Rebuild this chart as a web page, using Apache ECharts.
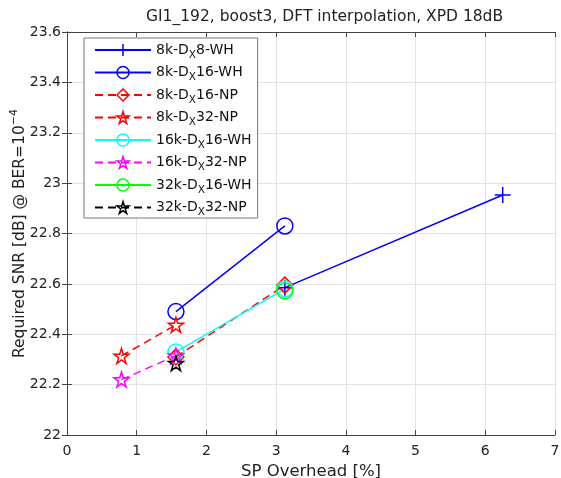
<!DOCTYPE html>
<html><head><meta charset="utf-8">
<script src="https://cdn.jsdelivr.net/npm/echarts@6/dist/echarts.min.js"></script>
<style>html,body{margin:0;padding:0;background:#fff}#c{width:561px;height:478px}</style>
</head><body><div id="c"></div>
<script>
const titleText = 'GI1_192, boost3, DFT interpolation, XPD 18dB';
const xTicks = [0,1,2,3,4,5,6,7];
const yTicks = [22,22.2,22.4,22.6,22.8,23,23.2,23.4,23.6];
const names = ['8k-Dx8-WH','8k-Dx16-WH','8k-Dx16-NP','8k-Dx32-NP','16k-Dx16-WH','16k-Dx32-NP','32k-Dx16-WH','32k-Dx32-NP'];
const colors = ['#0000ff','#0000ff','#ff0000','#ff0000','#00ffff','#ff00ff','#00ff00','#000000'];
const s8kDx8WH   = [[3.125,22.585],[6.25,22.953]];
const s8kDx16WH  = [[1.5625,22.49],[3.125,22.83]];
const s8kDx16NP  = [[1.5625,22.31],[3.125,22.595]];
const s8kDx32NP  = [[0.78125,22.314],[1.5625,22.437]];
const s16kDx16WH = [[1.5625,22.33],[3.125,22.58]];
const s16kDx32NP = [[0.78125,22.22],[1.5625,22.315]];
const s32kDx16WH = [[3.125,22.572]];
const s32kDx32NP = [[1.5625,22.285]];

const STAR = 'path://M0,-1L0.223,-0.307L0.951,-0.309L0.361,0.117L0.588,0.809L0,0.38L-0.588,0.809L-0.361,0.117L-0.951,-0.309L-0.223,-0.307Z';
const PLUS = 'path://M0,-1L0,1M-1,0L1,0';
const FONT = 'DejaVu Sans';

function mk(name, data, color, dashed, symbol, size) {
  return {
    name, type:'line', data, symbol, symbolSize:size,
    lineStyle:{color, width:1.5, type: dashed ? [8,5] : 'solid'},
    itemStyle:{color:'rgba(0,0,0,0)', borderColor:color, borderWidth:1.5},
    emphasis:{disabled:true}, animation:false
  };
}
const series = [
  mk(names[0], s8kDx8WH, colors[0], false, PLUS, 16),
  mk(names[1], s8kDx16WH, colors[1], false, 'circle', 16),
  mk(names[2], s8kDx16NP, colors[2], true, 'diamond', 16),
  mk(names[3], s8kDx32NP, colors[3], true, STAR, 15),
  mk(names[4], s16kDx16WH, colors[4], false, 'circle', 16),
  mk(names[5], s16kDx32NP, colors[5], true, STAR, 15),
  mk(names[6], s32kDx16WH, colors[6], false, 'circle', 16),
  mk(names[7], s32kDx32NP, colors[7], true, STAR, 15)
];

const chart = echarts.init(document.getElementById('c'));
const axisCommon = {
  axisLine:{show:true, lineStyle:{color:'#444', width:1}},
  axisTick:{show:true, inside:true, length:5, lineStyle:{color:'#444'}},
  axisLabel:{color:'#222', fontSize:14, fontFamily:FONT, margin:6},
};
chart.setOption({
  animation:false,
  title:{text:titleText, left:141, top:4, textStyle:{fontSize:15.5, fontWeight:'normal', color:'#222', fontFamily:FONT}},
  grid:{left:67, right:6, top:32, bottom:43, outerBoundsMode:'none', containLabel:false},
  legend:{
    orient:'vertical', left:84, top:38, itemWidth:56, itemHeight:15, itemGap:5,
    backgroundColor:'#fff', borderColor:'#777', borderWidth:1, padding:[5,6,0,10],
    data:names.map((n,i)=>({name:n, itemStyle:{color:'rgba(0,0,0,0)', borderColor:colors[i], borderWidth:1.5}})),
    formatter: function(n){ const m = n.match(/^(\d+k)-Dx(\d+-\w+)$/); return '{a|'+m[1]+'-D}{s|X}{a|'+m[2]+'}'; },
    textStyle:{fontFamily:FONT, fontSize:14, color:'#111', rich:{a:{fontSize:14, fontFamily:FONT, color:'#111'}, s:{fontSize:10.5, fontFamily:FONT, color:'#111', padding:[10,0,0,0]}}}
  },
  xAxis:[
    Object.assign({type:'value', min:0, max:7, interval:1, position:'bottom',
      name:'SP Overhead [%]', nameLocation:'middle', nameGap:28,
      nameTextStyle:{fontSize:16.5, color:'#222', fontFamily:FONT},
      splitLine:{show:true, lineStyle:{color:'#e3e3e3'}}}, axisCommon,
      {axisLabel:Object.assign({}, axisCommon.axisLabel, {margin:9})}),
    Object.assign({}, axisCommon, {type:'value', min:0, max:7, interval:1, position:'top', axisLabel:{show:false}, splitLine:{show:false}})
  ],
  yAxis:[
    Object.assign({type:'value', min:22, max:23.6, interval:0.2,
      name:'{a|Required SNR [dB] @ BER=10}{p|−4}', nameLocation:'middle', nameGap:36, nameMoveOverlap:false,
      nameTextStyle:{fontSize:15.5, color:'#222', fontFamily:FONT, rich:{a:{fontSize:15.5, color:'#222', fontFamily:FONT}, p:{fontSize:11, color:'#222', fontFamily:FONT, padding:[0,0,11,0]}}},
      splitLine:{show:true, lineStyle:{color:'#e3e3e3'}}}, axisCommon,
      {axisLabel:Object.assign({}, axisCommon.axisLabel, {formatter:v=>String(+v.toFixed(1))})}),
    Object.assign({}, axisCommon, {type:'value', min:22, max:23.6, interval:0.2, position:'right', axisLabel:{show:false}, splitLine:{show:false}})
  ],
  series
});
</script></body></html>
